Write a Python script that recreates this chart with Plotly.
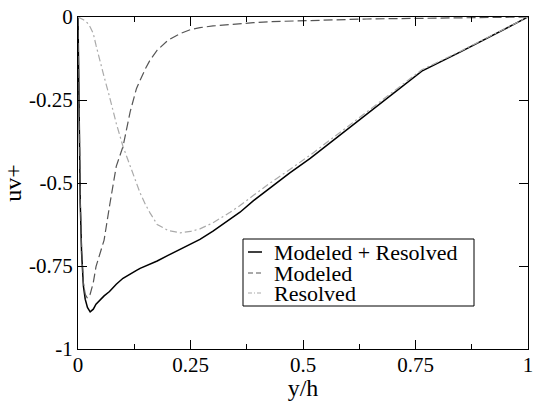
import plotly.graph_objects as go

# ---- data ----
y_over_h = [0, 0.002, 0.005, 0.008, 0.012, 0.016, 0.021, 0.027, 0.034, 0.04,
            0.05, 0.058, 0.07, 0.078, 0.085, 0.1, 0.116, 0.13, 0.138, 0.15,
            0.16, 0.176, 0.2, 0.227, 0.25, 0.271, 0.3, 0.338, 0.36, 0.39,
            0.427, 0.47, 0.516, 0.58, 0.642, 0.7, 0.764, 0.85, 0.93, 1.0]

uv_total = [0, -0.3, -0.56, -0.71, -0.81, -0.85, -0.875, -0.888, -0.88, -0.865,
            -0.85, -0.84, -0.827, -0.815, -0.805, -0.787, -0.773, -0.763, -0.757, -0.75,
            -0.745, -0.735, -0.718, -0.7, -0.684, -0.67, -0.645, -0.61, -0.588, -0.553,
            -0.514, -0.47, -0.426, -0.358, -0.29, -0.23, -0.163, -0.105, -0.048, 0]

uv_modeled = [0, -0.3, -0.55, -0.7, -0.8, -0.835, -0.847, -0.835, -0.8, -0.752,
              -0.71, -0.672, -0.57, -0.5, -0.45, -0.39, -0.285, -0.215, -0.19, -0.155,
              -0.13, -0.1, -0.07, -0.05, -0.038, -0.032, -0.027, -0.022, -0.02, -0.017,
              -0.014, -0.012, -0.01, -0.008, -0.006, -0.005, -0.004, -0.002, -0.001, 0]

uv_resolved = [0, -0.001, -0.003, -0.005, -0.008, -0.012, -0.018, -0.03, -0.05, -0.085,
               -0.14, -0.18, -0.24, -0.285, -0.32, -0.39, -0.45, -0.5, -0.53, -0.565,
               -0.59, -0.625, -0.643, -0.65, -0.646, -0.638, -0.62, -0.588, -0.568, -0.537,
               -0.5, -0.46, -0.416, -0.35, -0.285, -0.225, -0.159, -0.103, -0.047, 0]

series_names = ["Modeled + Resolved", "Modeled", "Resolved"]

x_tickvals = [0, 0.25, 0.5, 0.75, 1]
x_ticktext = ["0", "0.25", "0.5", "0.75", "1"]
y_tickvals = [0, -0.25, -0.5, -0.75, -1]
y_ticktext = ["0", "-0.25", "-0.5", "-0.75", "-1"]

# ---- styles ----
FONT = "Liberation Serif, Times New Roman, serif"
styles = [
    dict(color="#000000", width=1.5, dash="solid"),
    dict(color="#555555", width=1.2, dash="9px,4px"),
    dict(color="#aaaaaa", width=1.2, dash="7px,3px,2px,3px"),
]

W, H = 534, 401
L, R, T, B = 78, 6, 17, 52
PW, PH = W - L - R, H - T - B


def px_x(px):
    return (px - L) / PW


def px_y(py):
    return 1 - (py - T) / PH


fig = go.Figure()
for name, vals, st in zip(series_names, [uv_total, uv_modeled, uv_resolved], styles):
    fig.add_trace(go.Scatter(x=y_over_h, y=vals, mode="lines", name=name,
                             line=st, showlegend=False))

# ---- custom legend (box, samples, labels) ----
shapes = [dict(type="rect", xref="paper", yref="paper",
               x0=px_x(243), x1=px_x(474), y0=px_y(306), y1=px_y(239),
               line=dict(color="black", width=1), fillcolor="white", layer="above")]
annotations = []
rows_py = [252, 273, 293]
sample_dash = ["solid", "5px,3px", "4px,2px,1px,2px"]
for name, st, py, sd in zip(series_names, styles, rows_py, sample_dash):
    shapes.append(dict(type="line", xref="paper", yref="paper",
                       x0=px_x(248), x1=px_x(262), y0=px_y(py), y1=px_y(py),
                       line=dict(color=st["color"], width=st["width"], dash=sd),
                       layer="above"))
    annotations.append(dict(xref="paper", yref="paper", x=px_x(272), y=px_y(py),
                            xanchor="left", yanchor="middle", text=name,
                            showarrow=False,
                            font=dict(family=FONT, size=22, color="black")))

axis_common = dict(showline=True, linecolor="black", linewidth=1, mirror="ticks",
                   ticks="inside", ticklen=9, tickcolor="black", tickwidth=1,
                   showgrid=False, zeroline=False,
                   tickfont=dict(family=FONT, size=21, color="black"))

fig.update_layout(
    width=W, height=H,
    margin=dict(l=L, r=R, t=T, b=B, autoexpand=False),
    paper_bgcolor="white", plot_bgcolor="white",
    font=dict(family=FONT, color="black"),
    xaxis=dict(range=[0, 1], tickvals=x_tickvals, ticktext=x_ticktext,
               minor=dict(tickvals=[0.125, 0.375, 0.625, 0.875], ticks="inside",
                          ticklen=5, tickcolor="black", tickwidth=1),
               ticklabelstandoff=-3,
               title=dict(text="y/h", font=dict(family=FONT, size=24, color="black"),
                          standoff=10),
               **axis_common),
    yaxis=dict(range=[-1, 0], tickvals=y_tickvals, ticktext=y_ticktext,
               title=dict(text="uv+", font=dict(family=FONT, size=24, color="black"),
                          standoff=0),
               **axis_common),
    shapes=shapes,
    annotations=annotations,
)

fig.write_html("out.html", config={"displayModeBar": False},
               post_script="document.body.style.margin='0px';")
